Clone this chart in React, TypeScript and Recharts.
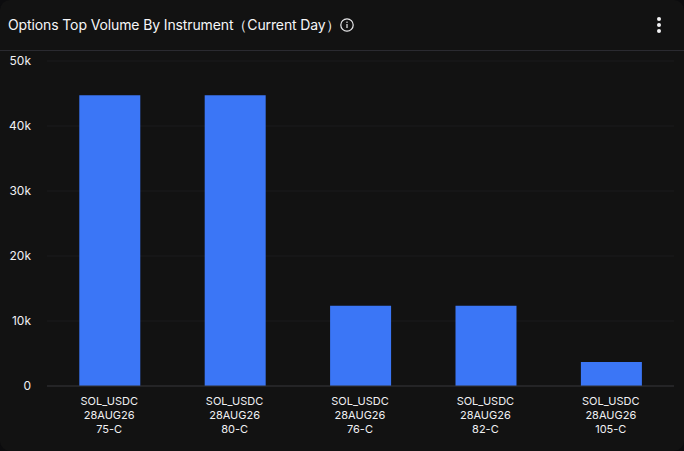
import React from "react";
import { BarChart, Bar, XAxis, YAxis, CartesianGrid } from "recharts";

const instruments = ["SOL_USDC|28AUG26|75-C", "SOL_USDC|28AUG26|80-C", "SOL_USDC|28AUG26|76-C", "SOL_USDC|28AUG26|82-C", "SOL_USDC|28AUG26|105-C"];
const volumes = [44750, 44750, 12350, 12350, 3700];
const yTicks = [0, 10000, 20000, 30000, 40000, 50000];
const rows = instruments.map((name, i) => ({ name, volume: volumes[i] }));
const FONT = "Inter, 'Noto Sans', sans-serif";

const XTick = (props: any) => {
  const { x, y, payload } = props;
  const lines = String(payload.value).split("|");
  return (
    <text x={x} y={y} textAnchor="middle" fill="#f0f0f2" fontSize={11} fontFamily={FONT}>
      {lines.map((l: string, i: number) => (
        <tspan key={i} x={x - 0.5} y={y + 11 + i * 14}>{l}</tspan>
      ))}
    </text>
  );
};

export default function App() {
  return (
    <div style={{ position: "absolute", left: 0, top: 0, width: 684, height: 451, background: "#0c0c0e", overflow: "hidden" }}>
      <div style={{ position: "absolute", inset: 0, background: "#121212", borderRadius: 10 }} />
      <div style={{ position: "absolute", left: 8, top: 16, fontFamily: FONT, fontSize: 14, fontWeight: 400, letterSpacing: "-0.12px", color: "#f6f6f8", whiteSpace: "nowrap", lineHeight: "18px" }}>
        Options Top Volume By Instrument（Current Day）
      </div>
      <svg style={{ position: "absolute", left: 339, top: 17 }} width="16" height="16" viewBox="0 0 16 16">
        <circle cx="8" cy="8" r="6.2" fill="none" stroke="#e8e8ea" strokeWidth="1.2" />
        <rect x="7.4" y="7" width="1.2" height="4" fill="#e8e8ea" />
        <rect x="7.4" y="4.6" width="1.2" height="1.3" fill="#e8e8ea" />
      </svg>
      <svg style={{ position: "absolute", left: 655, top: 15 }} width="8" height="20">
        {[4, 10, 16].map((cy) => <circle key={cy} cx="4" cy={cy} r="2" fill="#f2f2f4" />)}
      </svg>
      <div style={{ position: "absolute", left: 0, right: 0, top: 50, height: 1, background: "#2a2a30" }} />
      <div style={{ position: "absolute", left: 0, top: 0 }}>
        <BarChart width={684} height={451} data={rows} margin={{ top: 61, right: 10, bottom: 0, left: 0 }} barCategoryGap="25.75%">
          <CartesianGrid vertical={false} stroke="#1a1a1c" />
          <XAxis dataKey="name" interval={0} tick={<XTick />} axisLine={{ stroke: "#333336" }} tickLine={false} height={65} />
          <YAxis width={47} domain={[0, 50000]} ticks={yTicks} tickFormatter={(v: number) => (v === 0 ? "0" : `${v / 1000}k`)} axisLine={false} tickLine={false} tick={{ fill: "#f0f0f2", fontSize: 12, fontFamily: FONT, dx: -8 }} />
          <Bar dataKey="volume" fill="#3b76f6" isAnimationActive={false} />
        </BarChart>
      </div>
    </div>
  );
}
